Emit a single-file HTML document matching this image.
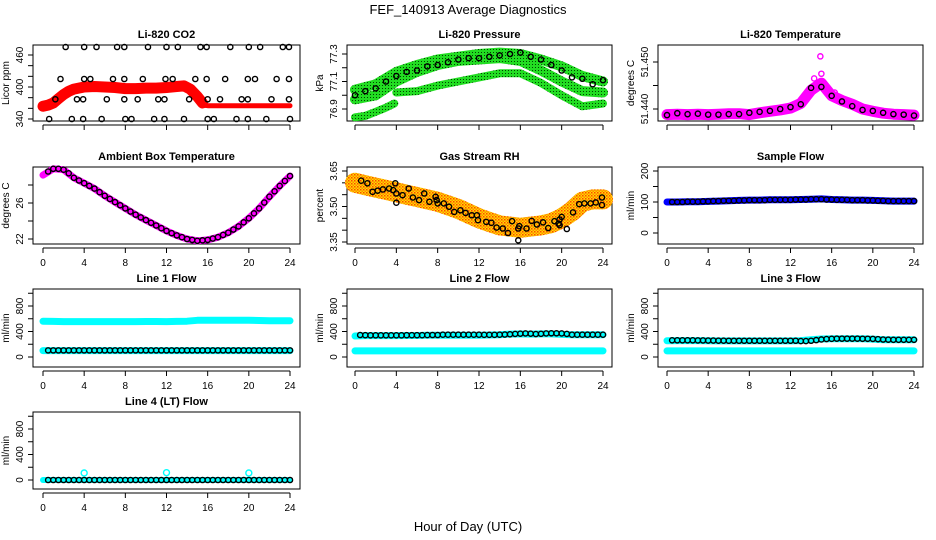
<!DOCTYPE html>
<html><head><meta charset="utf-8">
<style>
html,body{margin:0;padding:0;background:#fff;}
svg{display:block;font-family:"Liberation Sans",Arial,sans-serif;}
</style></head>
<body>
<svg id="chart" width="936" height="540" viewBox="0 0 936 540" xmlns="http://www.w3.org/2000/svg">
<defs>
<pattern id="greenDots" width="3" height="3" patternUnits="userSpaceOnUse"><rect width="3" height="3" fill="#22dd22"/><rect x="1" y="1" width="1" height="1" fill="#004400"/></pattern>
<pattern id="rhDots" width="3" height="3" patternUnits="userSpaceOnUse"><rect width="3" height="3" fill="#ffdd00"/><rect x="0" y="0" width="1.5" height="1.5" fill="#ff4400"/><rect x="1.5" y="1.5" width="1.5" height="1.5" fill="#ff8800"/></pattern>
<clipPath id="row1clip"><rect x="0" y="0" width="936" height="135"/></clipPath>
</defs>
<text x="468" y="14" text-anchor="middle" font-size="13">FEF_140913  Average Diagnostics</text>
<text x="468" y="531" text-anchor="middle" font-size="13">Hour of Day (UTC)</text>
</svg>
<script>
// ---------- data ----------
const hourly = [0,1,2,3,4,5,6,7,8,9,10,11,12,13,14,15,16,17,18,19,20,21,22,23,24];
const xTicks = [0,4,8,12,16,20,24];
// CO2
const co2RedAHours = [0,0.5,1,1.5,2,2.5,3,4,5,6,7,8,9,10,11,12,13,13.7,14.3,15,15.5];
const co2RedA = [364,366,370,378,386,392,396,400,401,400,399,397,397,398,398,399,401,402,396,382,370];
const co2RedBHours = [15.5,16,18,20,22,24];
const co2RedB = [366,365,365,365,365,365];
const co2BlkHours = [2.2,4.0,5.2,7.2,7.9,10.2,12.0,13.1,15.3,15.9,18.2,20.0,21.1,23.3,23.9, 0.6,2.8,3.9,5.7,8.0,8.6,10.8,11.8,13.7,16.0,16.6,18.8,19.9,21.7,24.0, 1.7,4.0,4.6,6.8,7.9,9.7,11.9,12.6,14.8,15.9,17.7,19.9,20.6,22.7,23.9, 1.2,3.3,3.9,6.2,7.9,9.2,11.2,11.8,14.2,16.0,17.2,19.3,19.9,22.2,23.9];
const co2BlkVals = [475,475,475,475,475,475,475,475,475,475,475,475,475,475,475, 340,340,340,340,340,340,340,340,340,340,340,340,340,340,340, 415,415,415,415,415,415,415,415,415,415,415,415,415,415,415, 377,377,377,377,377,377,377,377,377,377,377,377,377,377,377];
// Pressure
const presHours2 = [0,2,4,6,8,10,12,14,16,18,20,22,24];
const presUpper = [77.04,77.08,77.17,77.22,77.26,77.28,77.30,77.31,77.30,77.26,77.21,77.14,77.10];
const presMid = [76.97,77.00,77.10,77.17,77.22,77.25,77.26,77.27,77.25,77.18,77.10,77.03,77.02];
const presLowAHours = [0,1,2,3,3.8];
const presLowA = [76.84,76.85,76.88,76.91,76.94];
const presLowBHours = [4,6,8,10,12,14,16,18,20,22,24];
const presLowB = [77.02,77.03,77.07,77.10,77.13,77.16,77.16,77.09,77.00,76.92,76.94];
const presBlk = [77.00,77.03,77.05,77.10,77.14,77.17,77.18,77.21,77.22,77.24,77.26,77.27,77.27,77.28,77.29,77.30,77.31,77.28,77.26,77.22,77.18,77.13,77.12,77.08,77.11];
// Li-820 temperature
const tempMag = [51.4388,51.4389,51.4388,51.4389,51.4388,51.4389,51.4390,51.4390,51.4388,51.4392,51.4395,51.4398,51.4402,51.4412,51.4440,51.4455,51.4428,51.4418,51.4410,51.4400,51.4395,51.4391,51.4389,51.4388,51.4387];
const tempBlk = [51.4387,51.4391,51.4389,51.4390,51.4388,51.4388,51.4389,51.4389,51.4392,51.4394,51.4396,51.4400,51.4404,51.4410,51.4445,51.4447,51.4428,51.4416,51.4406,51.4398,51.4396,51.4392,51.4389,51.4388,51.4386];
const tempOutHours = [14.9,15.0,14.3,16.3];
const tempOut = [51.4512,51.4475,51.4465,51.4435];
// Ambient
const ambient = [29.1,29.8,29.7,28.8,28.2,27.6,26.8,26.1,25.4,24.7,24.1,23.5,22.9,22.4,22.0,21.8,21.9,22.2,22.7,23.4,24.3,25.4,26.7,27.9,29.0];
const ambientBlk = [29.5,29.8,29.8,29.7,29.3,28.8,28.5,28.2,27.9,27.6,27.2,26.8,26.45,26.1,25.75,25.4,25.05,24.7,24.4,24.1,23.8,23.5,23.2,22.9,22.65,22.4,22.2,22.0,21.9,21.8,21.85,21.9,22.05,22.2,22.45,22.7,23.05,23.4,23.85,24.3,24.85,25.4,26.05,26.7,27.3,27.9,28.45,29.0];
// RH
const rhBand = [3.60,3.59,3.58,3.57,3.56,3.55,3.54,3.53,3.52,3.505,3.49,3.47,3.45,3.435,3.42,3.415,3.41,3.415,3.42,3.43,3.45,3.48,3.52,3.53,3.53];
const rhBlkHours = [0.6,1.2,1.7,2.2,2.7,3.3,3.7,3.9,4.0,4.0,4.6,5.2,5.6,6.2,6.7,7.2,7.8,7.9,8.0,8.6,9.1,9.6,10.2,10.7,11.3,11.8,11.9,12.7,13.2,13.7,14.3,14.8,15.2,15.8,15.9,15.8,16.6,17.1,17.6,18.2,18.7,19.3,19.7,19.8,19.8,20.0,20.5,21.1,21.7,22.2,22.8,23.3,23.9,23.9];
const rhBlkVals = [3.609,3.598,3.562,3.567,3.572,3.576,3.569,3.598,3.555,3.516,3.548,3.576,3.538,3.527,3.555,3.520,3.541,3.527,3.513,3.513,3.499,3.477,3.484,3.473,3.463,3.463,3.442,3.435,3.431,3.411,3.407,3.388,3.438,3.407,3.417,3.357,3.407,3.439,3.424,3.433,3.409,3.438,3.428,3.445,3.421,3.456,3.405,3.475,3.510,3.513,3.513,3.517,3.538,3.506];
// Sample flow
const sampleBlue = [100,100,101,101,102,103,104,105,106,106,107,107,107,108,109,110,108,107,106,106,105,104,103,103,103];
const sampleBlk = [100,100,100,101,101,101,102,102,103,103,104,104,104,105,105,106,106,106,106,107,107,107,107,107,108,108,108,109,109,109,108,108,107,107,107,106,106,106,105,105,104,104,103,103,103,103,103,103];
// Line flows
const l1Cyan = [560,558,556,555,556,555,556,556,556,556,557,557,556,558,562,575,578,578,577,576,575,572,570,570,568];
const l1CyanLow = [100,100,100,100,100,100,100,100,100,100,100,100,100,100,100,100,100,100,100,100,100,100,100,100,100];
const l1Blk = [104,104,104,104,104,104,104,104,104,104,104,104,104,104,104,104,104,104,104,104,104,104,104,104,104,104,104,104,104,104,104,104,104,104,104,104,104,104,104,104,104,104,104,104,104,104,104,104];
const l2CyanHigh = [330,335,335,335,335,338,338,340,342,342,342,342,342,345,350,360,362,360,362,362,355,350,348,348,348];
const l2CyanLow = [95,95,95,95,95,95,95,95,95,95,95,95,95,95,95,95,95,95,95,95,95,95,95,95,95];
const l2Blk = [345,342,340,340,340,340,340,340,340,342,342,342,342,344,345,345,350,350,350,350,350,350,350,350,348,348,348,350,352,356,362,366,370,366,360,364,370,372,372,370,362,350,350,350,350,350,350,350];
const l3CyanHigh = [255,258,258,258,255,252,252,252,252,252,252,252,252,258,270,282,285,285,285,285,280,272,270,270,270];
const l3CyanLow = [95,95,95,95,95,95,95,95,95,95,95,95,95,95,95,95,95,95,95,95,95,95,95,95,95];
const l3Blk = [262,262,262,262,262,260,260,258,258,256,256,255,255,255,255,255,255,255,255,255,255,255,255,255,255,250,250,255,265,275,282,285,288,288,288,288,288,286,286,284,280,274,272,270,270,270,270,270];
const l4SpikeHours = [4,12,20];
const l4Spikes = [110,115,110];
const l4Blk = [0,0,0,0,0,0,0,0,0,0,0,0,0,0,0,0,0,0,0,0,0,0,0,0,0,0,0,0,0,0,0,0,0,0,0,0,0,0,0,0,0,0,0,0,0,0,0,0];
const halfHours = [];
for (let i = 1; i <= 48; i++) halfHours.push(i / 2);

// ---------- drawing ----------
const svg = document.getElementById('chart');
const NS = 'http://www.w3.org/2000/svg';
function mk(tag, attrs, parent) {
  const e = document.createElementNS(NS, tag);
  for (const k in attrs) e.setAttribute(k, attrs[k]);
  (parent || svg).appendChild(e);
  return e;
}
const cols = [{bx1:33,bx2:300,x0:43,x24:290},{bx1:347,bx2:612,x0:355,x24:603},{bx1:658,bx2:923,x0:667,x24:914}];
const rows = [{by1:45,by2:121},{by1:167,by2:244},{by1:289,by2:367},{by1:412,by2:489}];

function makePanel(name, title, col, row, yref, yticks, ylabels, ylab, fmt, clip) {
  const c = cols[col], r = rows[row];
  const g = mk('g', {});
  
  
  const xs = h => c.x0 + h * (c.x24 - c.x0) / 24;
  const ys = v => yref[1] + (v - yref[0]) * (yref[3] - yref[1]) / (yref[2] - yref[0]);
  const t = mk('text', {x:(c.bx1 + c.bx2) / 2, y:r.by1 - 7, 'text-anchor':'middle', 'font-size':'11', 'font-weight':'bold'}, g);
  t.textContent = title;
  
  
  const box = mk('rect', {x:c.bx1, y:r.by1, width:c.bx2 - c.bx1, height:r.by2 - r.by1, fill:'none', stroke:'#000', 'stroke-width':'1'}, g);
  
  
  const xa = mk('g', {}, g);
  
  
  if (clip) xa.setAttribute('clip-path', 'url(#row1clip)');
  const ay = r.by2 + 4;
  mk('line', {x1:xs(0), x2:xs(24), y1:ay, y2:ay, stroke:'#000'}, xa);
  xTicks.forEach(v => {
    mk('line', {x1:xs(v), x2:xs(v), y1:ay, y2:ay + 5, stroke:'#000'}, xa);
    const tl = mk('text', {x:xs(v), y:ay + 18, 'text-anchor':'middle', 'font-size':'10'}, xa);
    tl.textContent = v;
    
    
  });
  const ya = mk('g', {}, g);
  
  
  const ax = c.bx1;
  mk('line', {x1:ax, x2:ax, y1:ys(yticks[0]), y2:ys(yticks[yticks.length - 1]), stroke:'#000'}, ya);
  yticks.forEach(v => {
    mk('line', {x1:ax - 5, x2:ax, y1:ys(v), y2:ys(v), stroke:'#000'}, ya);
  });
  ylabels.forEach(v => {
    const lx = ax - 10, ly = ys(v);
    const tl = mk('text', {x:lx, y:ly, 'text-anchor':'middle', 'font-size':'10', transform:`rotate(-90 ${lx} ${ly})`}, ya);
    tl.textContent = fmt(v);
    
    
  });
  const yl = mk('text', {x:ax - 24, y:(r.by1 + r.by2) / 2, 'text-anchor':'middle', 'font-size':'10', transform:`rotate(-90 ${ax - 24} ${(r.by1 + r.by2) / 2})`}, g);
  yl.textContent = ylab;
  
  
  const data = mk('g', {}, g);
  return {xs, ys, g:data};
}
function band(p, hours, vals, color, w, name) {
  const pts = hours.map((h, i) => p.xs(h).toFixed(1) + ',' + p.ys(vals[i]).toFixed(1)).join(' ');
  const e = mk('polyline', {points:pts, fill:'none', stroke:color, 'stroke-width':w, 'stroke-linecap':'round', 'stroke-linejoin':'round'}, p.g);
  
  
}
function circles(p, hours, vals, color, name, r) {
  const grp = mk('g', {}, p.g);
  
  
  hours.forEach((h, i) => {
    const c = mk('circle', {cx:p.xs(h), cy:p.ys(vals[i]), r:r || 2.6, fill:'none', stroke:color, 'stroke-width':'1.4'}, grp);
    
    
  });
}
const f0 = v => String(v);

let p = makePanel('panel-co2', 'Li-820 CO2', 0, 0, [340,119,460,55], [340,360,380,400,420,440,460], [340,400,460], 'Licor ppm', f0, true);
band(p, co2RedAHours, co2RedA, '#ff0000', 11, 'co2-series');
band(p, co2RedBHours, co2RedB, '#ff0000', 5, 'co2-series-late');
circles(p, co2BlkHours, co2BlkVals, '#000', 'co2-average-points');

p = makePanel('panel-pressure', 'Li-820 Pressure', 1, 0, [76.9,109,77.3,54], [76.9,77.0,77.1,77.2,77.3], [76.9,77.1,77.3], 'kPa', v => v.toFixed(1), true);
band(p, presHours2, presUpper, 'url(#greenDots)', 10, 'pressure-upper-band');
band(p, presHours2, presMid, 'url(#greenDots)', 10, 'pressure-middle-band');
band(p, presLowAHours, presLowA, 'url(#greenDots)', 8, 'pressure-low-band-a');
band(p, presLowBHours, presLowB, 'url(#greenDots)', 8, 'pressure-low-band-b');
circles(p, hourly, presBlk, '#000', 'pressure-average-points');

p = makePanel('panel-li820-temp', 'Li-820 Temperature', 2, 0, [51.44,109,51.45,62], [51.44,51.445,51.45], [51.44,51.45], 'degrees C', v => v.toFixed(3), true);
band(p, hourly, tempMag, '#ff00ff', 11, 'temperature-series');
circles(p, tempOutHours, tempOut, '#ff00ff', 'temperature-outliers');
circles(p, hourly, tempBlk, '#000', 'temperature-average-points');

p = makePanel('panel-ambient-temp', 'Ambient Box Temperature', 0, 1, [22,239,28,185], [22,24,26,28], [22,26], 'degrees C', f0, false);
band(p, hourly, ambient, '#ff00ff', 7, 'ambient-series');
circles(p, halfHours, ambientBlk, '#000', 'ambient-average-points');

p = makePanel('panel-gas-rh', 'Gas Stream RH', 1, 1, [3.35,242,3.65,171], [3.35,3.40,3.45,3.50,3.55,3.60,3.65], [3.35,3.5,3.65], 'percent', v => v.toFixed(2), false);
band(p, hourly, rhBand, 'url(#rhDots)', 20, 'rh-series');
circles(p, rhBlkHours, rhBlkVals, '#000', 'rh-average-points');

p = makePanel('panel-sample-flow', 'Sample Flow', 2, 1, [0,233,200,171], [0,50,100,150,200], [0,100,200], 'ml/min', f0, false);
band(p, hourly, sampleBlue, '#0000ff', 7, 'sample-flow-series');
circles(p, halfHours, sampleBlk, '#000', 'sample-flow-average-points');

const flowTicks = [0,200,400,600,800,1000];
p = makePanel('panel-line1-flow', 'Line 1 Flow', 0, 2, [0,357,800,306], flowTicks, [0,400,800], 'ml/min', f0, false);
band(p, hourly, l1Cyan, '#00ffff', 7, 'line1-flow-series');
band(p, hourly, l1CyanLow, '#00ffff', 7, 'line1-flow-low-series');
circles(p, halfHours, l1Blk, '#000', 'line1-average-points');
p = makePanel('panel-line2-flow', 'Line 2 Flow', 1, 2, [0,357,800,306], flowTicks, [0,400,800], 'ml/min', f0, false);
band(p, hourly, l2CyanHigh, '#00ffff', 7, 'line2-flow-series');
band(p, hourly, l2CyanLow, '#00ffff', 7, 'line2-flow-low-series');
circles(p, halfHours, l2Blk, '#000', 'line2-average-points');
p = makePanel('panel-line3-flow', 'Line 3 Flow', 2, 2, [0,357,800,306], flowTicks, [0,400,800], 'ml/min', f0, false);
band(p, hourly, l3CyanHigh, '#00ffff', 7, 'line3-flow-series');
band(p, hourly, l3CyanLow, '#00ffff', 7, 'line3-flow-low-series');
circles(p, halfHours, l3Blk, '#000', 'line3-average-points');
p = makePanel('panel-line4-flow', 'Line 4 (LT) Flow', 0, 3, [0,480,800,429], flowTicks, [0,400,800], 'ml/min', f0, false);
band(p, [0,24], [0,0], '#00ffff', 6, 'line4-flow-series');
circles(p, l4SpikeHours, l4Spikes, '#00ffff', 'line4-flow-spikes', 3);
circles(p, halfHours, l4Blk, '#000', 'line4-average-points');
</script>
</body></html>
